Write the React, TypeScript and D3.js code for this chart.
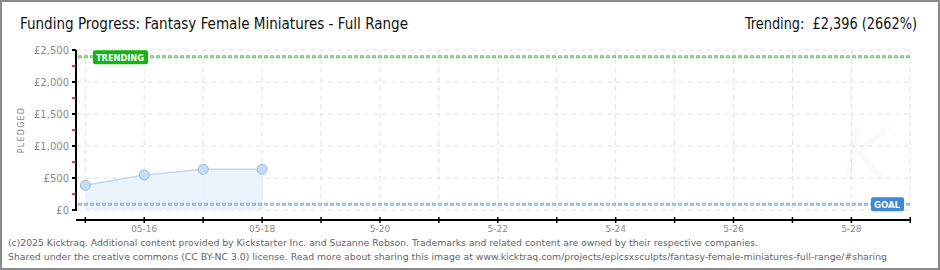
import React from "react";
import * as d3 from "d3";

const dates = ["2025-05-15", "2025-05-16", "2025-05-17", "2025-05-18"];
const pledged = [386, 547, 636, 636];
const yTicks = [0, 500, 1000, 1500, 2000, 2500];
const yMinorTicks = [250, 750, 1250, 1750, 2250];
const xLabelDays = ["05-16", "05-18", "5-20", "5-22", "5-24", "5-26", "5-28"];
const xLabelDates = ["2025-05-16", "2025-05-18", "2025-05-20", "2025-05-22", "2025-05-24", "2025-05-26", "2025-05-28"];
const xDomain = ["2025-05-15", "2025-05-29"];
const trending = 2396;
const goal = 90;
const title = "Funding Progress: Fantasy Female Miniatures - Full Range";
const trendingText = "Trending:  £2,396 (2662%)";
const footer1 = "(c)2025 Kicktraq. Additional content provided by Kickstarter Inc. and Suzanne Robson. Trademarks and related content are owned by their respective companies.";
const footer2 = "Shared under the creative commons (CC BY-NC 3.0) license. Read more about sharing this image at www.kicktraq.com/projects/epicsxsculpts/fantasy-female-miniatures-full-range/#sharing";

const parse = (s: string) => {
  const [y, m, d] = s.split("-").map(Number);
  return new Date(y, m - 1, d);
};

export default function App() {
  const W = 940, H = 270;
  const axisX = 76, plotRight = 910, plotTop = 50, zeroY = 210, axisY = 220;
  const x = d3.scaleTime().domain(xDomain.map(parse)).range([85.3, 910.3]);
  const y = d3.scaleLinear().domain([0, 2500]).range([zeroY, plotTop]);
  const days = d3.timeDay.range(parse(xDomain[0]), d3.timeDay.offset(parse(xDomain[1]), 1));
  const pts = dates.map((d, i) => ({ x: x(parse(d)), y: y(pledged[i]) }));
  const area = d3.area<{ x: number; y: number }>().x(d => d.x).y0(zeroY).y1(d => d.y)(pts) || "";
  const line = d3.line<{ x: number; y: number }>().x(d => d.x).y(d => d.y)(pts) || "";
  const fontPixel = "'DejaVu Sans', sans-serif";
  return (
    <svg width={W} height={H} style={{ position: "absolute", left: 0, top: 0, background: "#fff" }}>
      <rect x={1} y={1} width={W - 2} height={H - 2} fill="#fff" stroke="#8a8a8a" strokeWidth={2} />
      <text x={20} y={29} fontFamily="'DejaVu Sans Condensed', sans-serif" fontSize={15} fill="#111" textLength={388} lengthAdjust="spacingAndGlyphs">{title}</text>
      <text x={917} y={29} fontFamily="'DejaVu Sans Condensed', sans-serif" fontSize={15} fill="#111" textAnchor="end" textLength={172} lengthAdjust="spacingAndGlyphs" style={{ whiteSpace: "pre" }}>{trendingText}</text>

      {/* watermark */}
      <text x={866} y={178} textAnchor="middle" fontFamily="'DejaVu Sans', sans-serif" fontStyle="italic" fontSize={70} fill="#fafafa">K</text>

      {/* grid */}
      {yTicks.map(t => (
        <line key={"hg" + t} x1={axisX} x2={plotRight} y1={y(t)} y2={y(t)} stroke="#e2e2e2" strokeDasharray="5,4" />
      ))}
      {days.map((d, i) => (
        <line key={"vg" + i} x1={x(d)} x2={x(d)} y1={plotTop} y2={zeroY + 2} stroke="#e2e2e2" strokeDasharray="5,4" />
      ))}

      {/* area & line */}
      <path d={area} fill="#e9f2fc" fillOpacity={0.9} />
      <line x1={pts[pts.length - 1].x} x2={pts[pts.length - 1].x} y1={pts[pts.length - 1].y} y2={zeroY} stroke="#dde9f7" />
      <path d={line} fill="none" stroke="#c2d9f3" strokeWidth={1.5} />

      {/* trending line */}
      <line x1={axisX + 2} x2={plotRight} y1={y(trending)} y2={y(trending)} stroke="#6fcb6f" strokeWidth={3} strokeDasharray="4,2" />
      <line x1={axisX + 2} x2={plotRight} y1={y(trending)} y2={y(trending)} stroke="#b4e5b4" strokeWidth={1} strokeDasharray="2,4" strokeDashoffset={-1} />
      {/* goal line */}
      <line x1={axisX + 2} x2={plotRight} y1={y(goal)} y2={y(goal)} stroke="#8db5e2" strokeWidth={3} strokeDasharray="4,2" />
      <line x1={axisX + 2} x2={plotRight} y1={y(goal)} y2={y(goal)} stroke="#c6dbf2" strokeWidth={1} strokeDasharray="2,4" strokeDashoffset={-1} />

      {/* points */}
      {pts.map((p, i) => (
        <circle key={"pt" + i} cx={p.x} cy={p.y} r={5} fill="#c5dcf6" stroke="#9ab8dc" strokeWidth={1} />
      ))}

      {/* trending label */}
      <rect x={93} y={y(trending) - 6.5} width={55} height={14} rx={2} fill="#12b512" />
      <text x={96} y={y(trending) + 4} fontFamily={fontPixel} fontWeight="bold" fontSize={9} fill="#fff" textLength={48} lengthAdjust="spacingAndGlyphs">TRENDING</text>
      {/* goal label */}
      <rect x={871} y={y(goal) - 7} width={33} height={14} rx={2} fill="#3d88d8" />
      <text x={874} y={y(goal) + 3.8} fontFamily={fontPixel} fontWeight="bold" fontSize={9} fill="#fff" textLength={26} lengthAdjust="spacingAndGlyphs">GOAL</text>

      {/* y axis */}
      <line x1={axisX} x2={axisX} y1={plotTop} y2={zeroY + 1} stroke="#000" strokeWidth={2} />
      {yTicks.map(t => (
        <g key={"yt" + t}>
          <line x1={axisX - 4} x2={axisX} y1={y(t)} y2={y(t)} stroke="#000" strokeWidth={2} />
          <text x={69} y={y(t) + 3.5} textAnchor="end" fontFamily={fontPixel} fontSize={10} fill="#8a8a8a">{"£" + d3.format(",")(t)}</text>
        </g>
      ))}
      {yMinorTicks.map(t => (
        <line key={"ym" + t} x1={axisX - 4} x2={axisX} y1={y(t)} y2={y(t)} stroke="#e00000" strokeWidth={1.5} />
      ))}
      <text transform={`translate(24,${(plotTop + zeroY) / 2}) rotate(-90)`} textAnchor="middle" fontFamily={fontPixel} fontSize={8} fill="#888" letterSpacing={1.2}>PLEDGED</text>

      {/* x axis */}
      <line x1={axisX} x2={plotRight + 1} y1={axisY} y2={axisY} stroke="#000" strokeWidth={2} />
      {days.map((d, i) => (
        <line key={"xt" + i} x1={x(d)} x2={x(d)} y1={axisY - 3} y2={axisY + 3} stroke="#000" strokeWidth={1.5} />
      ))}
      {xLabelDates.map((d, i) => (
        <text key={"xl" + i} x={x(parse(d))} y={232} textAnchor="middle" fontFamily={fontPixel} fontSize={9} fill="#8a8a8a">{xLabelDays[i]}</text>
      ))}

      {/* footer */}
      <text x={8} y={246} fontFamily="'DejaVu Sans Condensed', sans-serif" fontSize={9.5} fill="#666" textLength={750} lengthAdjust="spacingAndGlyphs">{footer1}</text>
      <text x={8} y={260} fontFamily="'DejaVu Sans Condensed', sans-serif" fontSize={9.5} fill="#666" textLength={879} lengthAdjust="spacingAndGlyphs">{footer2}</text>
    </svg>
  );
}
